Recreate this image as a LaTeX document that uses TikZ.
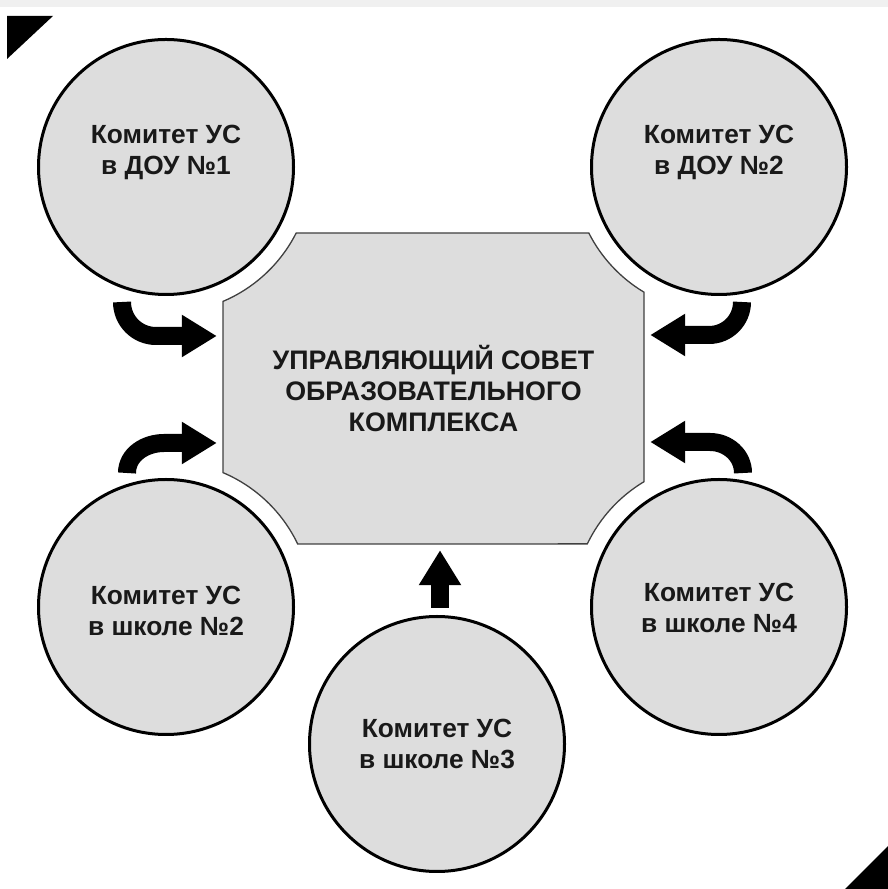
\documentclass[tikz,border=0pt]{standalone}
\usepackage{fontspec}
\setmainfont{Liberation Sans}
\usetikzlibrary{arrows.meta}
\definecolor{panel}{RGB}{221,221,221}
\tikzset{
  committee/.style={circle, draw=black, line width=3pt, fill=panel,
    minimum size=255pt, inner sep=0pt},
  ctext/.style={font=\bfseries\fontsize{26.3}{31}\selectfont, align=center,
    text=black!90},
  flow/.style={line width=18pt, -{Triangle[width=40pt,length=35pt]}},
}
\begin{document}
\begin{tikzpicture}[x=1pt,y=1pt]
  \useasboundingbox (0,0) rectangle (888,889);
  \fill[black!6] (0,882) rectangle (888,889);
  \fill (7,873) -- (53,873) -- (7,830) -- cycle;
  \fill (888,43) -- (888,0) -- (845,0) -- cycle;

  % central council
  \filldraw[fill=panel, draw=black!75, line width=1.3pt]
    (296.2,656) -- (588.8,656) arc[start angle=206.9, end angle=239.1, radius=146]
    -- (644,407.3) arc[start angle=120.9, end angle=154.4, radius=146]
    -- (297.7,345) arc[start angle=25.6, end angle=67.0, radius=146]
    -- (223,587.6) arc[start angle=-67.0, end angle=-26.9, radius=146] -- cycle;
  \node[ctext, font=\bfseries\fontsize{26.8}{31}\selectfont,
    minimum width=421pt, minimum height=311pt, inner sep=0pt]
    (council) at (433.5,500.5) {УПРАВЛЯЮЩИЙ СОВЕТ\\ОБРАЗОВАТЕЛЬНОГО\\КОМПЛЕКСА};

  % committees
  \node[committee, label={[ctext,yshift=15pt]center:{Комитет УС\\в ДОУ №1}}]
    (dou1) at (166,722) {};
  \node[committee, label={[ctext,yshift=15pt]center:{Комитет УС\\в ДОУ №2}}]
    (dou2) at (719,722) {};
  \node[committee, label={[ctext,yshift=-4pt]center:{Комитет УС\\в школе №2}}]
    (school2) at (166,282) {};
  \node[committee, label={[ctext]center:{Комитет УС\\в школе №3}}]
    (school3) at (437,145) {};
  \node[committee, label={[ctext,yshift=-1pt]center:{Комитет УС\\в школе №4}}]
    (school4) at (719,282) {};

  % arrows into the council
  \draw[flow] ([shift={(-44,-135)}]dou1.center) to[out=-90,in=180] ++(34,-34)
    -- ([shift={(-6,52.5)}]council.west);
  \draw[flow] ([shift={(-39,134)}]school2.center) to[out=90,in=180] ++(37,30)
    -- ([shift={(-6,-54.5)}]council.west);
  \draw[flow] ([shift={(23,-135)}]dou2.center) to[out=-90,in=0] ++(-33,-33)
    -- ([shift={(6,53.5)}]council.east);
  \draw[flow] ([shift={(24,134)}]school4.center) to[out=90,in=0] ++(-33,31)
    -- ([shift={(6,-53.5)}]council.east);
  \draw[flow] ([shift={(3,136)}]school3.center)
    -- ([shift={(6.5,-6)}]council.south);
\end{tikzpicture}
\end{document}
